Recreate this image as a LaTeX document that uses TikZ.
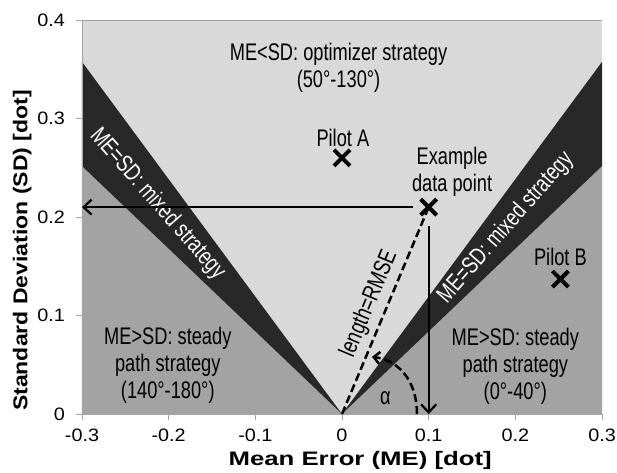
\documentclass[tikz,border=0pt]{standalone}
\usepackage{fontspec}
\setmainfont{Liberation Sans}
\newfontfamily\plotfont[FakeStretch=0.76]{Liberation Sans}
\newfontfamily\tickfont[FakeStretch=1.1]{Liberation Sans}
\newfontfamily\xtitlefont[FakeStretch=1.32]{Liberation Sans}
\newfontfamily\ytitlefont[FakeStretch=1.15]{Liberation Sans}
\usepackage{tikz}
\usetikzlibrary{arrows.meta,shapes.misc}
\definecolor{optregion}{RGB}{217,217,217}
\definecolor{steadyregion}{RGB}{163,163,163}
\definecolor{mixedband}{RGB}{40,40,40}
\definecolor{axisgray}{RGB}{165,165,165}

\begin{document}
\begin{tikzpicture}[x=86.67pt,y=98.5pt,
		plottext/.style={font=\plotfont\fontsize{24}{27}\selectfont,align=center,inner sep=0pt},
		ticklabel/.style={font=\tickfont\fontsize{18}{21}\selectfont,inner sep=0pt},
		pilot/.style={cross out,draw,line width=4pt,minimum size=12pt,inner sep=0pt},
		readout/.style={line width=2.2pt,-{Straight Barb[length=8pt,width=15pt]}},
		guide/.style={line width=2.5pt,dash pattern=on 8pt off 4pt}]
		\useasboundingbox (-342pt,-58pt) rectangle (275pt,414pt);
		\coordinate (O) at (0,0);

		% regions
		\fill [optregion] (-3,0) rectangle (3,4);
		\fill [steadyregion] (O) -- (-3,{3*tan(40)}) -- (-3,0) -- cycle;
		\fill [steadyregion] (O) -- (3,{3*tan(40)}) -- (3,0) -- cycle;
		\fill [mixedband] (O) -- (-3,{3*tan(50)}) -- (-3,{3*tan(40)}) -- cycle;
		\fill [mixedband] (O) -- (3,{3*tan(50)}) -- (3,{3*tan(40)}) -- cycle;

		% axes and ticks
		\draw [axisgray,line width=0.8pt] (-3,4) -- (3,4);
		\draw [axisgray,line width=0.8pt] (-3,0) -- (3,0);
		\draw [axisgray,line width=0.8pt] (-3,0) -- (-3,4);
		\foreach \xv/\xl in {-3/-0.3,-2/-0.2,-1/-0.1,0/0,1/0.1,2/0.2,3/0.3} {
			\draw [axisgray,line width=0.8pt] (\xv,0) -- ++(0,-6pt);
			\node [ticklabel] (xtick\xv) at (\xv,-0.213) {\xl};
		}
		\foreach \yv/\yl in {0/0,1/0.1,2/0.2,3/0.3,4/0.4} {
			\draw [axisgray,line width=0.8pt] (-3,\yv) -- ++(-6pt,0);
			\node [ticklabel,anchor=east] (ytick\yv) at ([xshift=-17pt]-3,\yv) {\yl};
		}
		\node [font=\xtitlefont\bfseries\fontsize{19.5}{22}\selectfont,inner sep=0pt] (xtitle) at (0.21,-0.467) {Mean Error (ME) [dot]};
		\node [font=\ytitlefont\bfseries\fontsize{20}{23}\selectfont,inner sep=0pt,rotate=90] (ytitle) at (-3.69,1.66) {Standard Deviation (SD) [dot]};

		% region labels
		\node [plottext] (optlabel) at (-0.04,3.51) {ME<SD: optimizer strategy\\(50°-130°)};
		\node [plottext] (steadyleft) at (-2.01,0.49) {ME>SD: steady\\path strategy\\(140°-180°)};
		\node [plottext] (steadyright) at (2.0,0.48) {ME>SD: steady\\path strategy\\(0°-40°)};
		\path (O) -- (-3,3) node [plottext,text=white,pos=0.71,sloped] (mixedleft) {ME=SD: mixed strategy};
		\path (O) -- (3,3) node [plottext,text=white,pos=0.63,sloped] (mixedright) {ME=SD: mixed strategy};

		% pilots
		\node [pilot] (pilotA) at (0,2.6) {};
		\node [plottext] (pilotAlabel) at (0.01,2.80) {Pilot A};
		\node [pilot] (pilotB) at (2.52,1.37) {};
		\node [plottext] (pilotBlabel) at (2.52,1.59) {Pilot B};
		\node [pilot] (datapt) at (1,2.1) {};
		\node [plottext] (datalabel) at (1.27,2.46) {Example\\data point};

		% read-outs of the example point
		\coordinate (hstart) at (0.82,2.1);
		\coordinate (hend) at (-3,2.1);
		\coordinate (vstart) at (1,1.91);
		\coordinate (vend) at (1,0);
		\draw [readout] (hstart) -- (hend);
		\draw [readout] (vstart) -- (vend);
		\draw [guide] (O) -- (datapt.center) node [plottext,midway,sloped,above=5pt] (rmse) {length=RMSE};
		\coordinate (arcstart) at (0.865,0);
		\coordinate (arcend) at (0.346,0.58);
		\draw [guide,-{Straight Barb[length=6pt,width=12pt]}] (arcstart) .. controls (0.865,0.345) and (0.646,0.548) .. (arcend);
		\node [plottext] (alpha) at (0.5,0.16) {α};
\end{tikzpicture}
\end{document}
